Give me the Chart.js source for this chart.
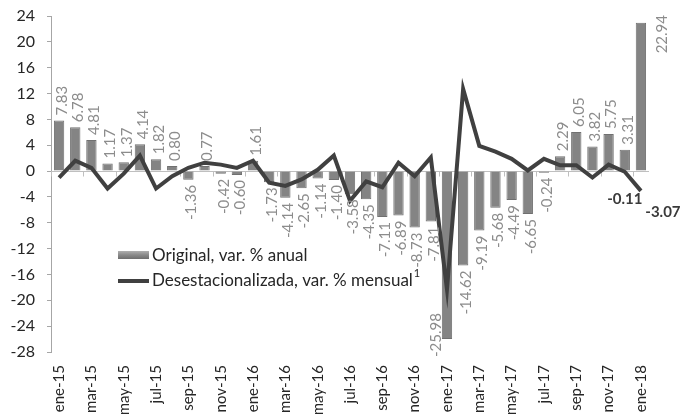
<!DOCTYPE html>
<html>
<head>
<meta charset="utf-8">
<script src="https://cdn.jsdelivr.net/npm/chart.js@4"></script>
<style>
  html, body { margin: 0; padding: 0; background: #fff; }
  #wrap { width: 686px; height: 414px; }
</style>
</head>
<body>
<div id="wrap"><canvas id="chart" width="686" height="414"></canvas></div>
<script>
const months = [
  "ene-15","feb-15","mar-15","abr-15","may-15","jun-15","jul-15","ago-15","sep-15","oct-15","nov-15","dic-15",
  "ene-16","feb-16","mar-16","abr-16","may-16","jun-16","jul-16","ago-16","sep-16","oct-16","nov-16","dic-16",
  "ene-17","feb-17","mar-17","abr-17","may-17","jun-17","jul-17","ago-17","sep-17","oct-17","nov-17","dic-17",
  "ene-18"
];

// Original, var. % anual
const original = [
  7.83, 6.78, 4.81, 1.17, 1.37, 4.14, 1.82, 0.80, -1.36, 0.77, -0.42, -0.60,
  1.61, -1.73, -4.14, -2.65, -1.14, -1.40, -3.58, -4.35, -7.11, -6.89, -8.73, -7.81,
  -25.98, -14.62, -9.19, -5.68, -4.49, -6.65, -0.24, 2.29, 6.05, 3.82, 5.75, 3.31,
  22.94
];

// Desestacionalizada, var. % mensual
const seasonal = [
  -1.0, 1.6, 0.5, -2.7, -0.4, 2.4, -2.7, -0.8, 0.5, 1.3, 1.0, 0.5,
  1.6, -1.8, -2.3, -1.3, 0.2, 2.4, -4.6, -1.6, -2.5, 1.3, -0.8, 2.1,
  -18.3, 12.7, 3.9, 3.0, 1.9, 0.1, 1.9, 0.9, 0.9, -1.0, 1.0, -0.11,
  -3.07
];

const yTicks = [24, 20, 16, 12, 8, 4, 0, -4, -8, -12, -16, -20, -24, -28];
const lineLabelIdx = [35, 36];

const FONT = "Lato, 'Open Sans', sans-serif";

const zeroLine = {
  id: 'zeroLine',
  beforeDatasetsDraw(chart) {
    const { ctx, chartArea } = chart;
    const y0 = Math.round(chart.scales.y.getPixelForValue(0)) + 0.5;
    const w = (chartArea.right - chartArea.left) / months.length;
    ctx.save();
    ctx.strokeStyle = '#bfbfbf';
    ctx.lineWidth = 1;
    ctx.beginPath();
    ctx.moveTo(chartArea.left, y0);
    ctx.lineTo(chartArea.right, y0);
    for (let k = 0; k <= months.length; k += 2) {
      const xx = Math.round(chartArea.left + k * w) + 0.5;
      ctx.moveTo(xx, y0);
      ctx.lineTo(xx, y0 + 5);
    }
    ctx.stroke();
    ctx.restore();
  }
};

const valueLabels = {
  id: 'valueLabels',
  afterDatasetsDraw(chart) {
    const ctx = chart.ctx;
    const area = chart.chartArea;
    const bars = chart.getDatasetMeta(0).data;
    ctx.save();
    ctx.font = '15px ' + FONT;
    ctx.fillStyle = '#8c8c8c';
    ctx.textBaseline = 'middle';
    bars.forEach((bar, i) => {
      const v = original[i];
      const txt = v.toFixed(2);
      const tw = ctx.measureText(txt).width;
      ctx.save();
      if (v >= 0 && bar.y - 5 - tw < area.top - 4) {
        // no room above: put it beside the bar
        ctx.translate(bar.x + 21, area.top - 1);
        ctx.rotate(-Math.PI / 2);
        ctx.textAlign = 'right';
      } else if (v >= 0) {
        ctx.translate(bar.x + 3, bar.y - 5);
        ctx.rotate(-Math.PI / 2);
        ctx.textAlign = 'left';
      } else if (bar.y + 5 + tw > area.bottom + 6) {
        // no room below: put it beside the bar
        ctx.translate(bar.x - 11, area.bottom + 5);
        ctx.rotate(-Math.PI / 2);
        ctx.textAlign = 'left';
      } else {
        ctx.translate(bar.x + 3, bar.y + 5);
        ctx.rotate(-Math.PI / 2);
        ctx.textAlign = 'right';
      }
      ctx.fillText(txt, 0, 0);
      ctx.restore();
    });

    const pts = chart.getDatasetMeta(1).data;
    ctx.font = 'bold 15px ' + FONT;
    ctx.fillStyle = '#3a3a3a';
    ctx.textAlign = 'center';
    lineLabelIdx.forEach((i, n) => {
      const p = pts[i];
      const dx = n === 0 ? 0 : 22;
      const dy = n === 0 ? 27 : 21;
      ctx.fillText(seasonal[i].toFixed(2), p.x + dx, p.y + dy);
    });
    ctx.restore();
  }
};

const legendBox = {
  id: 'legendBox',
  afterDraw(chart) {
    const ctx = chart.ctx;
    ctx.save();
    const g = ctx.createLinearGradient(0, 251, 0, 259);
    g.addColorStop(0, '#b0b0b0');
    g.addColorStop(0.5, '#8a8a8a');
    g.addColorStop(1, '#6e6e6e');
    ctx.fillStyle = g;
    ctx.fillRect(118, 251, 31, 8);
    ctx.fillStyle = '#404040';
    ctx.fillRect(118, 279, 31, 4);
    ctx.font = '17px ' + FONT;
    ctx.fillStyle = '#262626';
    ctx.textBaseline = 'middle';
    ctx.textAlign = 'left';
    ctx.fillText('Original, var. % anual', 152, 256);
    const t2 = 'Desestacionalizada, var. % mensual';
    ctx.fillText(t2, 152, 281);
    const w2 = ctx.measureText(t2).width;
    ctx.font = '11px ' + FONT;
    ctx.fillText('1', 152 + w2 + 1, 273);
    ctx.restore();
  }
};

new Chart(document.getElementById('chart'), {
  data: {
    labels: months,
    datasets: [
      {
        type: 'bar',
        label: 'Original, var. % anual',
        data: original,
        backgroundColor: '#848484',
        borderColor: '#707070',
        borderWidth: 1,
        barPercentage: 0.64,
        categoryPercentage: 1,
        order: 1
      },
      {
        type: 'line',
        label: 'Desestacionalizada, var. % mensual',
        data: seasonal,
        borderColor: '#404040',
        borderWidth: 4,
        pointRadius: 0,
        tension: 0,
        order: 0
      }
    ]
  },
  options: {
    responsive: false,
    animation: false,
    devicePixelRatio: 1,
    layout: { padding: { top: 16, right: 37, left: 0, bottom: 0 } },
    plugins: {
      legend: { display: false },
      tooltip: { enabled: false }
    },
    scales: {
      x: {
        grid: { display: false, drawTicks: false },
        border: { display: false },
        ticks: {
          autoSkip: false,
          minRotation: 90,
          maxRotation: 90,
          padding: 13,
          color: '#262626',
          font: { family: FONT, size: 15 },
          callback: (val, i) => (i % 2 === 0 ? months[i] : '')
        },
        afterFit: s => { s.height = 62; }
      },
      y: {
        min: yTicks[yTicks.length - 1],
        max: yTicks[0],
        afterBuildTicks: s => { s.ticks = yTicks.map(v => ({ value: v })); },
        grid: { drawOnChartArea: false, drawTicks: true, tickLength: 4, color: '#a6a6a6' },
        border: { display: true, color: '#a6a6a6' },
        ticks: {
          padding: 12,
          color: '#262626',
          font: { family: FONT, size: 16 }
        },
        afterFit: s => { s.width = 51; s.paddingTop = 0; s.paddingBottom = 0; }
      }
    }
  },
  plugins: [zeroLine, valueLabels, legendBox]
});
</script>
</body>
</html>
